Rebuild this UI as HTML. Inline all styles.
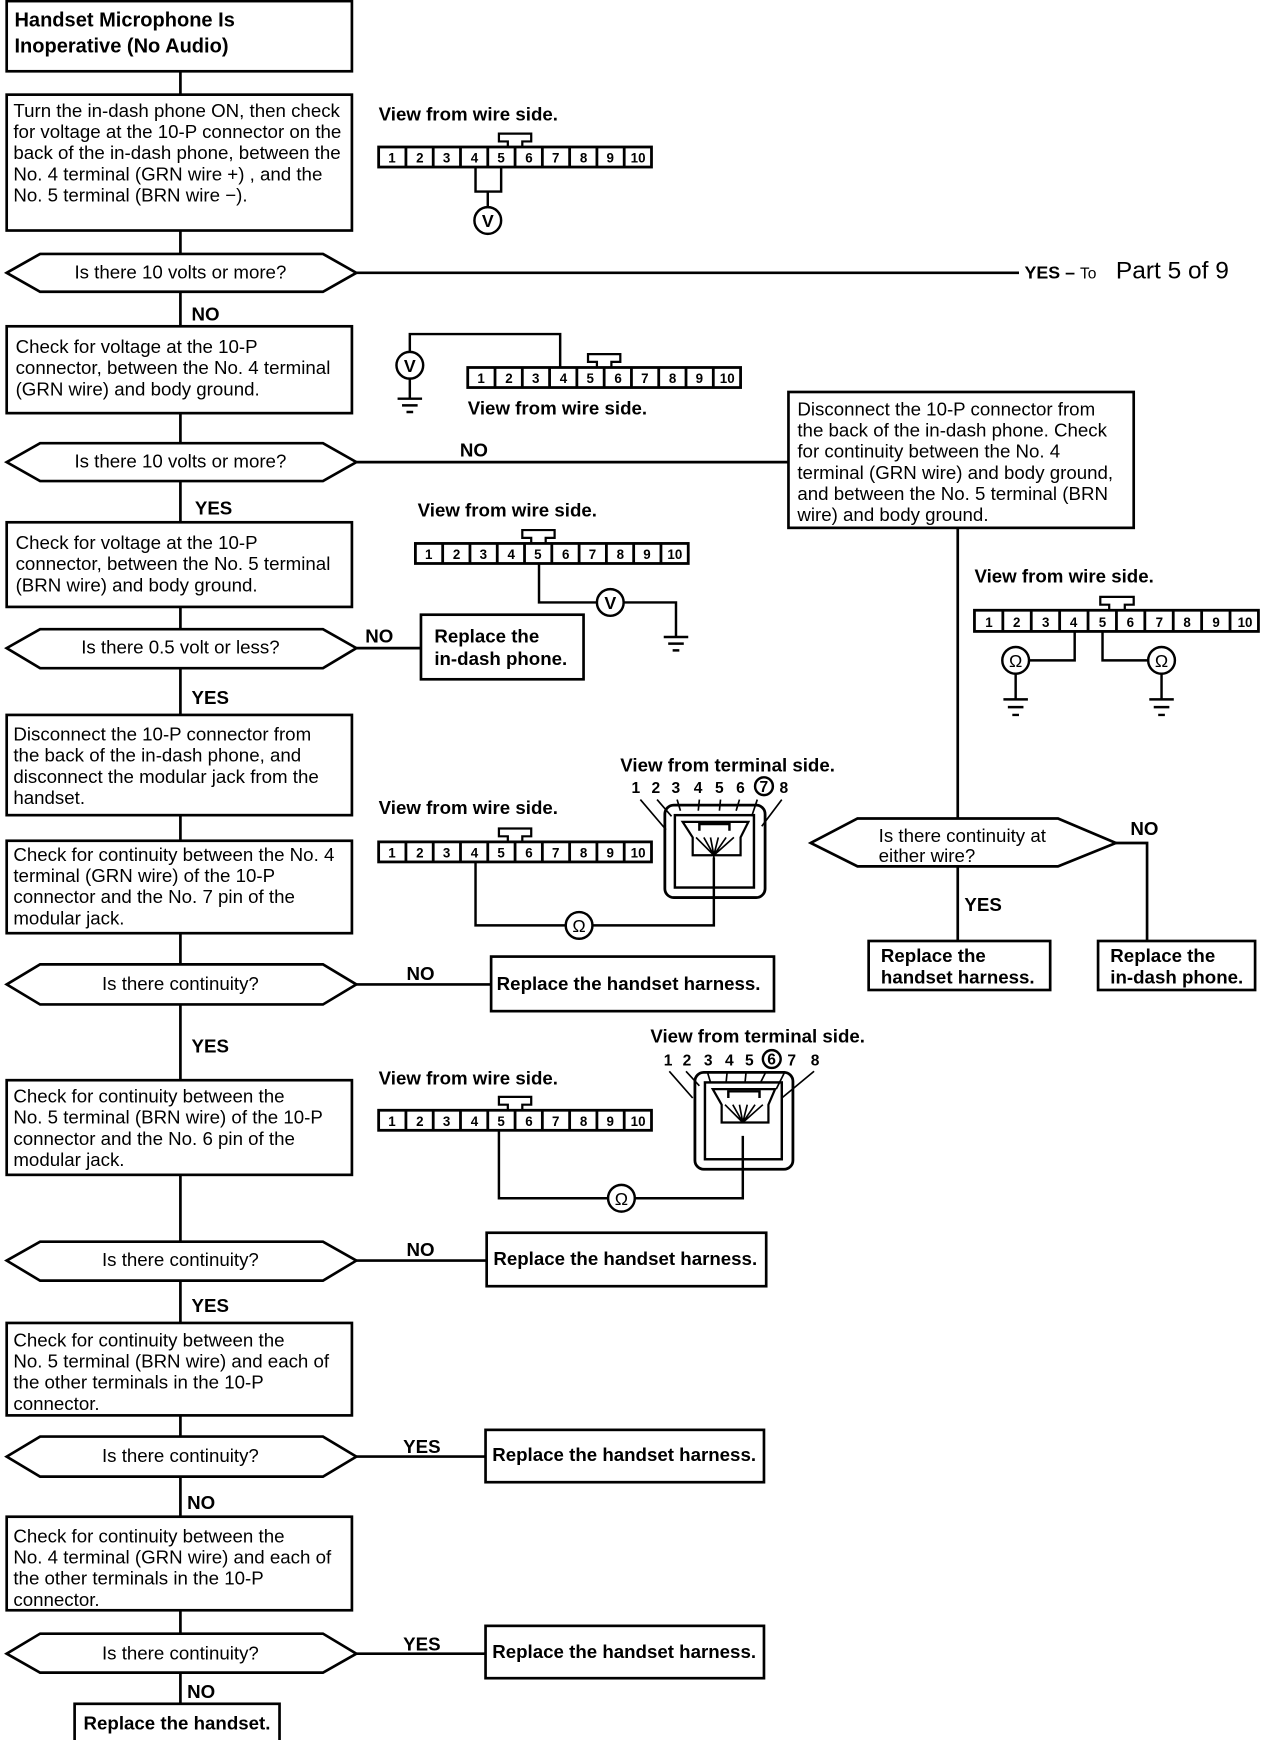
<!DOCTYPE html>
<html><head><meta charset="utf-8"><style>
html,body{margin:0;padding:0;background:#fff;}
svg{display:block;}
text{font-family:"Liberation Sans",Arial,sans-serif;fill:#000;}
.t{font-size:16.8px;}
.b{font-weight:bold;}
.n{font-size:12px;font-weight:bold;text-anchor:middle;}
.c{text-anchor:middle;}
</style></head><body>
<svg width="1264" height="1740" viewBox="0 0 1135 1562.5" preserveAspectRatio="none" xmlns="http://www.w3.org/2000/svg">
<g fill="none" stroke="#000" stroke-width="2.4">
<path d="M162,64V85 M162,207V228 M162,262V293 M162,371V398 M162,432V469 M162,545V565 M162,600V642 M162,732V755 M162,838V866 M162,902V970 M162,1055V1115 M162,1150V1188 M162,1271V1290 M162,1326V1362 M162,1446V1467 M162,1502V1530"/>
<rect x="6" y="1" width="310" height="63"/>
<rect x="6" y="85" width="310" height="122"/>
<rect x="6" y="293" width="310" height="78"/>
<rect x="6" y="469" width="310" height="76"/>
<rect x="6" y="642" width="310" height="90"/>
<rect x="6" y="755" width="310" height="83"/>
<rect x="6" y="970" width="310" height="85"/>
<rect x="6" y="1188" width="310" height="83"/>
<rect x="6" y="1362" width="310" height="84"/>
<rect x="67" y="1530" width="184" height="34"/>
<rect x="708" y="352" width="310" height="122"/>
<rect x="378" y="552" width="146" height="58"/>
<rect x="441" y="859" width="254" height="49"/>
<rect x="437" y="1107" width="251" height="48"/>
<rect x="436" y="1284" width="250" height="47"/>
<rect x="436" y="1460" width="250" height="47"/>
<rect x="780" y="845" width="163" height="44"/>
<rect x="986" y="845" width="141" height="44"/>
<path d="M6,245L36,228H290L320,245L290,262H36Z"/>
<path d="M6,415L36,398H290L320,415L290,432H36Z"/>
<path d="M6,582L36,565H290L320,582L290,600H36Z"/>
<path d="M6,884L36,866H290L320,884L290,902H36Z"/>
<path d="M6,1132L36,1115H290L320,1132L290,1150H36Z"/>
<path d="M6,1308L36,1290H290L320,1308L290,1326H36Z"/>
<path d="M6,1485L36,1467H290L320,1485L290,1502H36Z"/>
<path d="M728,757L770,735H950L1002,757L950,778H770Z"/>
<path d="M320,245H915 M320,415H708 M320,582H378 M320,884H441 M320,1132H437 M320,1308H436 M320,1485H436"/>
<path d="M860,474V735 M860,778V845 M1002,757H1030V845"/>
</g>

<text x="13" y="24" class="b" style="font-size:18px">Handset Microphone Is</text>
<text x="13" y="47" class="b" style="font-size:18px">Inoperative (No Audio)</text>

<text class="t" x="12" y="105">Turn the in-dash phone ON, then check</text>
<text class="t" x="12" y="124">for voltage at the 10-P connector on the</text>
<text class="t" x="12" y="143">back of the in-dash phone, between the</text>
<text class="t" x="12" y="162">No. 4 terminal (GRN wire +) , and the</text>
<text class="t" x="12" y="181">No. 5 terminal (BRN wire −).</text>

<text class="t c" x="162" y="250">Is there 10 volts or more?</text>
<text x="920" y="250" class="b" style="font-size:16px">YES – <tspan style="font-weight:normal;font-size:14px">To</tspan></text>
<text x="1002" y="250" style="font-size:22px">Part 5 of 9</text>
<text x="172" y="288" class="b t">NO</text>

<text class="t" x="14" y="317">Check for voltage at the 10-P</text>
<text class="t" x="14" y="336">connector, between the No. 4 terminal</text>
<text class="t" x="14" y="355">(GRN wire) and body ground.</text>

<text class="t c" x="162" y="420">Is there 10 volts or more?</text>
<text x="413" y="410" class="b t">NO</text>
<text x="175" y="462" class="b t">YES</text>

<text class="t" x="716" y="373">Disconnect the 10-P connector from</text>
<text class="t" x="716" y="392">the back of the in-dash phone. Check</text>
<text class="t" x="716" y="411">for continuity between the No. 4</text>
<text class="t" x="716" y="430">terminal (GRN wire) and body ground,</text>
<text class="t" x="716" y="449">and between the No. 5 terminal (BRN</text>
<text class="t" x="716" y="468">wire) and body ground.</text>

<text class="t" x="14" y="493">Check for voltage at the 10-P</text>
<text class="t" x="14" y="512">connector, between the No. 5 terminal</text>
<text class="t" x="14" y="531">(BRN wire) and body ground.</text>

<text class="t c" x="162" y="587">Is there 0.5 volt or less?</text>
<text x="328" y="577" class="b t">NO</text>
<text x="390" y="577" class="b t">Replace the</text>
<text x="390" y="597" class="b t">in-dash phone.</text>
<text x="172" y="632" class="b t">YES</text>

<text class="t" x="12" y="665">Disconnect the 10-P connector from</text>
<text class="t" x="12" y="684">the back of the in-dash phone, and</text>
<text class="t" x="12" y="703">disconnect the modular jack from the</text>
<text class="t" x="12" y="722">handset.</text>

<text class="t" x="12" y="773">Check for continuity between the  No. 4</text>
<text class="t" x="12" y="792">terminal (GRN wire) of the 10-P</text>
<text class="t" x="12" y="811">connector and the No. 7 pin of the</text>
<text class="t" x="12" y="830">modular jack.</text>

<text class="t c" x="162" y="889">Is there continuity?</text>
<text x="365" y="880" class="b t">NO</text>
<text x="446" y="889" class="b t">Replace the handset harness.</text>
<text x="172" y="945" class="b t">YES</text>

<text class="t" x="12" y="990">Check for continuity between the</text>
<text class="t" x="12" y="1009">No. 5 terminal (BRN wire) of the 10-P</text>
<text class="t" x="12" y="1028">connector and the No. 6 pin of the</text>
<text class="t" x="12" y="1047">modular jack.</text>

<text class="t c" x="162" y="1137">Is there continuity?</text>
<text x="365" y="1128" class="b t">NO</text>
<text x="443" y="1136" class="b t">Replace the handset harness.</text>
<text x="172" y="1178" class="b t">YES</text>

<text class="t" x="12" y="1209">Check for continuity between the</text>
<text class="t" x="12" y="1228">No. 5 terminal (BRN wire) and each of</text>
<text class="t" x="12" y="1247">the other terminals in the 10-P</text>
<text class="t" x="12" y="1266">connector.</text>

<text class="t c" x="162" y="1313">Is there continuity?</text>
<text x="362" y="1305" class="b t">YES</text>
<text x="442" y="1312" class="b t">Replace the handset harness.</text>
<text x="168" y="1355" class="b t">NO</text>

<text class="t" x="12" y="1385">Check for continuity between the</text>
<text class="t" x="12" y="1404">No. 4 terminal (GRN wire) and each of</text>
<text class="t" x="12" y="1423">the other terminals in the 10-P</text>
<text class="t" x="12" y="1442">connector.</text>

<text class="t c" x="162" y="1490">Is there continuity?</text>
<text x="362" y="1482" class="b t">YES</text>
<text x="442" y="1489" class="b t">Replace the handset harness.</text>
<text x="168" y="1525" class="b t">NO</text>
<text x="75" y="1553" class="b t">Replace the handset.</text>

<text class="t" x="789" y="756">Is there continuity at</text>
<text class="t" x="789" y="774">either wire?</text>
<text x="1015" y="750" class="b t">NO</text>
<text x="866" y="818" class="b t">YES</text>
<text x="791" y="864" class="b t">Replace the</text>
<text x="791" y="883" class="b t">handset harness.</text>
<text x="997" y="864" class="b t">Replace the</text>
<text x="997" y="883" class="b t">in-dash phone.</text>

<text x="340" y="108" class="b t">View from wire side.</text>
<text x="420" y="372" class="b t">View from wire side.</text>
<text x="375" y="464" class="b t">View from wire side.</text>
<text x="875" y="523" class="b t">View from wire side.</text>
<text x="340" y="731" class="b t">View from wire side.</text>
<text x="340" y="974" class="b t">View from wire side.</text>
<text x="557" y="693" class="b t">View from terminal side.</text>
<text x="584" y="936" class="b t">View from terminal side.</text>

<g transform="translate(340,132)">
<g fill="none" stroke="#000" stroke-width="2.5"><rect width="245" height="18"/><path d="M24.5,0V18M49,0V18M73.5,0V18M98,0V18M122.5,0V18M147,0V18M171.5,0V18M196,0V18M220.5,0V18"/><path d="M116,0V-5H108V-12H137V-5H129V0" stroke-width="2"/></g>
<text class="n" x="12" y="14">1</text><text class="n" x="37" y="14">2</text><text class="n" x="61" y="14">3</text><text class="n" x="86" y="14">4</text><text class="n" x="110" y="14">5</text><text class="n" x="135" y="14">6</text><text class="n" x="159" y="14">7</text><text class="n" x="184" y="14">8</text><text class="n" x="208" y="14">9</text><text class="n" x="233" y="14">10</text>
</g>
<g transform="translate(420,330)">
<g fill="none" stroke="#000" stroke-width="2.5"><rect width="245" height="18"/><path d="M24.5,0V18M49,0V18M73.5,0V18M98,0V18M122.5,0V18M147,0V18M171.5,0V18M196,0V18M220.5,0V18"/><path d="M116,0V-5H108V-12H137V-5H129V0" stroke-width="2"/></g>
<text class="n" x="12" y="14">1</text><text class="n" x="37" y="14">2</text><text class="n" x="61" y="14">3</text><text class="n" x="86" y="14">4</text><text class="n" x="110" y="14">5</text><text class="n" x="135" y="14">6</text><text class="n" x="159" y="14">7</text><text class="n" x="184" y="14">8</text><text class="n" x="208" y="14">9</text><text class="n" x="233" y="14">10</text>
</g>
<g transform="translate(373,488)">
<g fill="none" stroke="#000" stroke-width="2.5"><rect width="245" height="18"/><path d="M24.5,0V18M49,0V18M73.5,0V18M98,0V18M122.5,0V18M147,0V18M171.5,0V18M196,0V18M220.5,0V18"/><path d="M104,0V-5H96V-12H125V-5H117V0" stroke-width="2"/></g>
<text class="n" x="12" y="14">1</text><text class="n" x="37" y="14">2</text><text class="n" x="61" y="14">3</text><text class="n" x="86" y="14">4</text><text class="n" x="110" y="14">5</text><text class="n" x="135" y="14">6</text><text class="n" x="159" y="14">7</text><text class="n" x="184" y="14">8</text><text class="n" x="208" y="14">9</text><text class="n" x="233" y="14">10</text>
</g>
<g transform="translate(875,548)">
<g fill="none" stroke="#000" stroke-width="2.5"><rect width="255" height="19"/><path d="M25.5,0V19M51,0V19M76.5,0V19M102,0V19M127.5,0V19M153,0V19M178.5,0V19M204,0V19M229.5,0V19"/><path d="M121,0V-5H113V-12H143V-5H135V0" stroke-width="2"/></g>
<text class="n" x="13" y="15">1</text><text class="n" x="38" y="15">2</text><text class="n" x="64" y="15">3</text><text class="n" x="89" y="15">4</text><text class="n" x="115" y="15">5</text><text class="n" x="140" y="15">6</text><text class="n" x="166" y="15">7</text><text class="n" x="191" y="15">8</text><text class="n" x="217" y="15">9</text><text class="n" x="243" y="15">10</text>
</g>
<g transform="translate(340,756)">
<g fill="none" stroke="#000" stroke-width="2.5"><rect width="245" height="18"/><path d="M24.5,0V18M49,0V18M73.5,0V18M98,0V18M122.5,0V18M147,0V18M171.5,0V18M196,0V18M220.5,0V18"/><path d="M116,0V-5H108V-12H137V-5H129V0" stroke-width="2"/></g>
<text class="n" x="12" y="14">1</text><text class="n" x="37" y="14">2</text><text class="n" x="61" y="14">3</text><text class="n" x="86" y="14">4</text><text class="n" x="110" y="14">5</text><text class="n" x="135" y="14">6</text><text class="n" x="159" y="14">7</text><text class="n" x="184" y="14">8</text><text class="n" x="208" y="14">9</text><text class="n" x="233" y="14">10</text>
</g>
<g transform="translate(340,997)">
<g fill="none" stroke="#000" stroke-width="2.5"><rect width="245" height="18"/><path d="M24.5,0V18M49,0V18M73.5,0V18M98,0V18M122.5,0V18M147,0V18M171.5,0V18M196,0V18M220.5,0V18"/><path d="M116,0V-5H108V-12H137V-5H129V0" stroke-width="2"/></g>
<text class="n" x="12" y="14">1</text><text class="n" x="37" y="14">2</text><text class="n" x="61" y="14">3</text><text class="n" x="86" y="14">4</text><text class="n" x="110" y="14">5</text><text class="n" x="135" y="14">6</text><text class="n" x="159" y="14">7</text><text class="n" x="184" y="14">8</text><text class="n" x="208" y="14">9</text><text class="n" x="233" y="14">10</text>
</g>

<g fill="none" stroke="#000" stroke-width="2.2">
<path d="M427,150V172H450V150 M438,172V186"/>
<circle cx="438" cy="198" r="12"/>
<path d="M368,316V300H503V330 M368,340V358"/>
<circle cx="368" cy="328" r="12"/>
<path d="M357,358H379 M361,364H375 M365,370H371"/>
<path d="M484,506V541H536 M560,541H607V572"/>
<circle cx="548" cy="541" r="12"/>
<path d="M596,572H618 M600,578H614 M604,584H610"/>
<path d="M965,567V593H924 M990,567V593H1031"/>
<circle cx="912" cy="593" r="12"/><circle cx="1043" cy="593" r="12"/>
<path d="M912,605V628M901,628H923M905,635H919M909,642H915 M1043,605V628M1032,628H1054M1036,635H1050M1040,642H1046"/>
<path d="M427,774V831H508 M532,831H641V770"/>
<circle cx="520" cy="831" r="12"/>
<path d="M448,1015V1076H546 M570,1076H667V1020"/>
<circle cx="558" cy="1076" r="12"/>
<rect x="597" y="723" width="90" height="83" rx="8" stroke-width="2.5"/>
<rect x="606" y="732" width="71" height="65"/>
<path d="M613,738H672L665,752V768H622V752Z" stroke-width="2"/>
<path d="M628,746V740H655V746" />
<path d="M641,768L625,752M641,768L632,752M641,768L638,752M641,768L645,752M641,768L652,752M641,768L659,752M641,768V770" stroke-width="1.5"/>
<path d="M575,718L598,745M590,718L603,733M608,718L611,728M628,718L627,728M647,718L646,728M664,718L661,728M680,718L675,733M702,718L684,742" stroke-width="1.5"/>
<rect x="624" y="963" width="88" height="87" rx="8" stroke-width="2.5"/>
<rect x="633" y="972" width="69" height="69"/>
<path d="M640,978H696L690,992V1008H648V992Z" stroke-width="2"/>
<path d="M654,986V980H682V986"/>
<path d="M667,1008L651,992M667,1008L658,992M667,1008L664,992M667,1008L671,992M667,1008L678,992M667,1008L685,992" stroke-width="1.5"/>
<path d="M601,962L622,986M616,962L628,975M635,962L638,972M653,962L652,972M670,962L669,972M688,962L683,972M705,962L697,978M731,962L702,986" stroke-width="1.5"/>
<circle cx="686" cy="706" r="8"/>
<circle cx="693" cy="951" r="8"/>
</g>
<text x="438" y="204" class="b c" style="font-size:16px">V</text>
<text x="368" y="334" class="b c" style="font-size:16px">V</text>
<text x="548" y="547" class="b c" style="font-size:16px">V</text>
<text x="912" y="599" class="c" style="font-size:16px">Ω</text>
<text x="1043" y="599" class="c" style="font-size:16px">Ω</text>
<text x="520" y="837" class="c" style="font-size:16px">Ω</text>
<text x="558" y="1082" class="c" style="font-size:16px">Ω</text>
<g class="b" style="font-size:14px">
<text x="567" y="712">1</text><text x="585" y="712">2</text><text x="603" y="712">3</text><text x="623" y="712">4</text><text x="642" y="712">5</text><text x="661" y="712">6</text><text x="682" y="711">7</text><text x="700" y="712">8</text>
<text x="596" y="957">1</text><text x="613" y="957">2</text><text x="632" y="957">3</text><text x="651" y="957">4</text><text x="669" y="957">5</text><text x="689" y="956">6</text><text x="707" y="957">7</text><text x="728" y="957">8</text>
</g>
</svg>
</body></html>
